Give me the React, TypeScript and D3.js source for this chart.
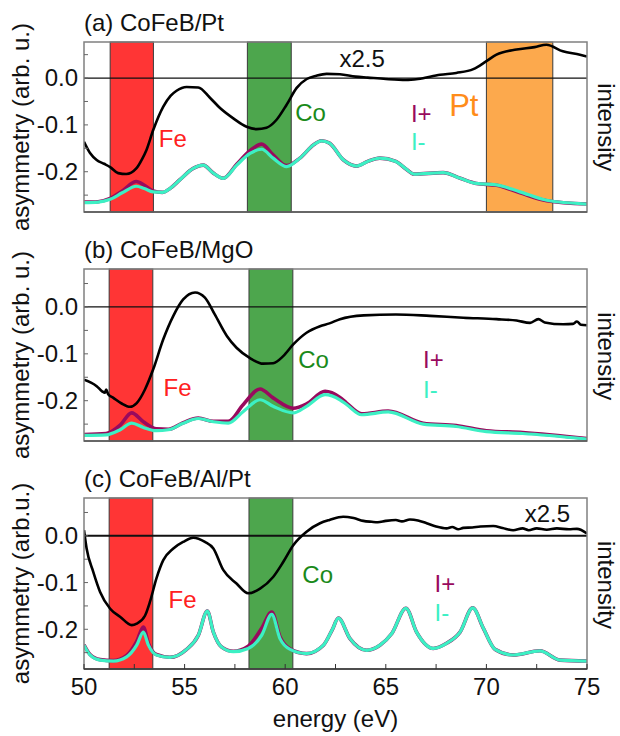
import React from 'react';
import * as d3 from 'd3';

type Pt = [number, number];

// ---------- tick labels / titles ----------
const energyTicks = [50, 55, 60, 65, 70, 75];
const energyMinorTicks = [50, 52.5, 55, 57.5, 60, 62.5, 65, 67.5, 70, 72.5, 75];
const asymTicks = [0.0, -0.1, -0.2];
const asymTickLabels = ['0.0', '-0.1', '-0.2'];
const asymMinorTicks = [0.05, 0.0, -0.05, -0.1, -0.15, -0.2, -0.25];
const panelTitles = ['(a) CoFeB/Pt', '(b) CoFeB/MgO', '(c) CoFeB/Al/Pt'];
const yAxisTitles = ['asymmetry (arb. u.)', 'asymmetry (arb. u.)', 'asymmetry (arb.u.)'];

// ---------- element edge bands (eV) ----------
const feBands: Pt[] = [[51.3, 53.45], [51.25, 53.42], [51.25, 53.42]];
const coBands: Pt[] = [[58.12, 60.3], [58.2, 60.38], [58.2, 60.38]];
const ptBand: Pt = [70.0, 73.3];

// ---------- panel (a) CoFeB/Pt ----------
const asymA: Pt[] = [[50, -0.136], [50.3, -0.16], [50.63, -0.175], [51.0, -0.183], [51.3, -0.19], [51.7, -0.203], [52.1, -0.205], [52.6, -0.193], [52.9, -0.172], [53.1, -0.154], [53.44, -0.111], [53.94, -0.061], [54.3, -0.038], [54.6, -0.027], [55.1, -0.019], [55.68, -0.02], [56.26, -0.042], [56.76, -0.064], [57.42, -0.086], [58.08, -0.104], [58.58, -0.109], [59.07, -0.106], [59.57, -0.089], [60.07, -0.057], [60.57, -0.021], [61.07, -0.002], [61.55, 0.005], [62.06, 0.009], [62.72, 0.008], [63.5, 0.003], [64.1, 0.001], [65.0, -0.002], [66.0, -0.004], [66.6, -0.002], [67.7, 0.007], [68.5, 0.011], [69.35, 0.019], [70.0, 0.036], [70.5, 0.05], [71.5, 0.061], [72.4, 0.066], [72.98, 0.071], [73.8, 0.057], [74.65, 0.05], [75, 0.046]];
const minusA: Pt[] = [[50, -0.266], [50.7, -0.265], [51.3, -0.259], [51.9, -0.245], [52.6, -0.231], [53.0, -0.236], [53.43, -0.243], [53.9, -0.244], [54.3, -0.235], [54.77, -0.217], [55.43, -0.193], [55.93, -0.186], [56.43, -0.203], [56.92, -0.214], [57.59, -0.186], [58.25, -0.161], [58.83, -0.152], [59.4, -0.171], [60.07, -0.189], [60.73, -0.171], [61.4, -0.143], [61.8, -0.134], [62.2, -0.139], [62.9, -0.175], [63.55, -0.188], [64.1, -0.178], [64.7, -0.171], [65.5, -0.178], [66.0, -0.194], [66.4, -0.205], [67.85, -0.202], [68.7, -0.214], [69.5, -0.225], [70.5, -0.228], [71.67, -0.243], [73, -0.261], [75, -0.269]];
const plusA: Pt[] = [[50, -0.265], [50.7, -0.264], [51.3, -0.257], [51.9, -0.241], [52.6, -0.221], [53.0, -0.229], [53.43, -0.241], [53.9, -0.244], [54.3, -0.235], [54.77, -0.217], [55.43, -0.193], [55.93, -0.186], [56.43, -0.203], [56.92, -0.214], [57.59, -0.184], [58.25, -0.155], [58.83, -0.141], [59.4, -0.164], [60.07, -0.187], [60.73, -0.171], [61.4, -0.143], [61.8, -0.134], [62.2, -0.139], [62.9, -0.175], [63.55, -0.188], [64.1, -0.178], [64.7, -0.171], [65.5, -0.178], [66.0, -0.194], [66.4, -0.205], [67.85, -0.202], [68.7, -0.214], [69.5, -0.225], [70.5, -0.229], [71.67, -0.245], [73, -0.262], [75, -0.269]];

// ---------- panel (b) CoFeB/MgO ----------
const asymB: Pt[] = [[50, -0.155], [50.63, -0.169], [50.9, -0.18], [51.04, -0.183], [51.1, -0.176], [51.2, -0.186], [51.46, -0.194], [51.87, -0.206], [52.29, -0.213], [52.62, -0.205], [53.03, -0.176], [53.44, -0.133], [53.94, -0.069], [54.44, -0.019], [54.93, 0.016], [55.52, 0.031], [56.01, 0.02], [56.5, -0.016], [57.1, -0.062], [57.58, -0.087], [58.25, -0.109], [58.9, -0.121], [59.4, -0.12], [59.9, -0.105], [60.4, -0.08], [61.06, -0.055], [61.73, -0.041], [62.2, -0.035], [62.72, -0.026], [63.9, -0.018], [65.5, -0.016], [67.2, -0.019], [68.85, -0.023], [70.5, -0.026], [71.5, -0.029], [72.17, -0.034], [72.58, -0.026], [72.9, -0.033], [73.83, -0.037], [74.3, -0.036], [74.5, -0.031], [74.7, -0.038], [75, -0.039]];
const minusB: Pt[] = [[50, -0.274], [51.1, -0.273], [51.8, -0.262], [52.37, -0.248], [52.95, -0.257], [53.6, -0.264], [54.19, -0.262], [54.93, -0.248], [55.68, -0.238], [56.43, -0.245], [57.17, -0.248], [57.92, -0.223], [58.75, -0.198], [59.4, -0.212], [60.4, -0.226], [61.06, -0.212], [61.98, -0.187], [62.72, -0.198], [63.05, -0.208], [63.8, -0.23], [65.12, -0.224], [66.86, -0.25], [68.5, -0.255], [70.0, -0.266], [71.8, -0.27], [75, -0.282]];
const plusB: Pt[] = [[50, -0.272], [51.1, -0.27], [51.8, -0.252], [52.37, -0.226], [52.95, -0.245], [53.6, -0.26], [54.19, -0.261], [54.93, -0.247], [55.68, -0.237], [56.43, -0.244], [57.17, -0.244], [57.92, -0.208], [58.75, -0.175], [59.4, -0.194], [60.4, -0.216], [61.06, -0.207], [61.98, -0.18], [62.72, -0.193], [63.05, -0.205], [63.8, -0.228], [65.12, -0.222], [66.86, -0.248], [68.5, -0.253], [70.0, -0.264], [71.8, -0.268], [75, -0.281]];

// ---------- panel (c) CoFeB/Al/Pt ----------
const asymC: Pt[] = [[50, 0.012], [50.13, -0.027], [50.46, -0.077], [50.8, -0.12], [51.3, -0.156], [51.79, -0.173], [52.37, -0.191], [52.62, -0.188], [53.03, -0.171], [53.28, -0.141], [53.6, -0.091], [53.94, -0.052], [54.44, -0.027], [54.93, -0.013], [55.43, -0.004], [56.01, -0.013], [56.43, -0.027], [56.92, -0.073], [57.58, -0.102], [58.16, -0.123], [58.75, -0.113], [59.4, -0.088], [59.9, -0.056], [60.4, -0.02], [61.06, 0.009], [61.73, 0.027], [62.2, 0.034], [62.88, 0.041], [63.4, 0.038], [63.88, 0.032], [64.3, 0.03], [64.6, 0.029], [65.0, 0.032], [65.5, 0.034], [65.8, 0.031], [66.2, 0.035], [66.6, 0.033], [67.03, 0.027], [67.5, 0.02], [68.02, 0.016], [68.3, 0.019], [68.6, 0.014], [68.85, 0.017], [69.3, 0.018], [69.7, 0.02], [70.34, 0.021], [70.8, 0.017], [71.33, 0.012], [71.8, 0.016], [72.1, 0.012], [72.5, 0.016], [73.0, 0.013], [73.5, 0.016], [74.1, 0.014], [74.5, 0.015], [75, 0.005]];
const minusC: Pt[] = [[50, -0.234], [50.3, -0.255], [50.8, -0.266], [51.46, -0.268], [52.12, -0.259], [52.62, -0.234], [52.95, -0.206], [53.2, -0.234], [53.6, -0.255], [54.27, -0.26], [55.1, -0.243], [55.68, -0.213], [56.13, -0.161], [56.43, -0.206], [56.84, -0.238], [57.42, -0.248], [58.16, -0.241], [58.83, -0.213], [59.33, -0.168], [59.74, -0.22], [60.24, -0.243], [61.06, -0.252], [61.9, -0.234], [62.35, -0.2], [62.64, -0.176], [63.22, -0.22], [64.05, -0.245], [64.71, -0.234], [65.3, -0.209], [66.0, -0.155], [66.53, -0.206], [67.36, -0.241], [68.02, -0.23], [68.69, -0.206], [69.32, -0.154], [69.85, -0.198], [70.43, -0.243], [71.33, -0.255], [72.66, -0.246], [73.66, -0.266], [75, -0.268]];
const plusC: Pt[] = [[50, -0.233], [50.3, -0.254], [50.8, -0.265], [51.46, -0.267], [52.12, -0.256], [52.62, -0.226], [52.95, -0.195], [53.2, -0.23], [53.6, -0.254], [54.27, -0.26], [55.1, -0.243], [55.68, -0.213], [56.13, -0.161], [56.43, -0.206], [56.84, -0.238], [57.42, -0.247], [58.16, -0.236], [58.83, -0.198], [59.33, -0.163], [59.74, -0.216], [60.24, -0.242], [61.06, -0.252], [61.9, -0.234], [62.35, -0.2], [62.64, -0.176], [63.22, -0.22], [64.05, -0.245], [64.71, -0.234], [65.3, -0.209], [66.0, -0.155], [66.53, -0.206], [67.36, -0.241], [68.02, -0.23], [68.69, -0.206], [69.32, -0.154], [69.85, -0.198], [70.43, -0.243], [71.33, -0.255], [72.66, -0.246], [73.66, -0.266], [75, -0.268]];

const asymSeries = [asymA, asymB, asymC];
const plusSeries = [plusA, plusB, plusC];
const minusSeries = [minusA, minusB, minusC];

// ---------- annotation texts and their anchor positions (energy, asymmetry units) ----------
const feLabelPos: Pt[] = [[53.72, -0.147], [53.95, -0.189], [54.2, -0.154]];
const coLabelPos: Pt[] = [[60.5, -0.092], [60.65, -0.13], [60.85, -0.101]];
const plusLabelPos: Pt[] = [[66.25, -0.093], [66.85, -0.13], [67.42, -0.12]];
const minusLabelPos: Pt[] = [[66.25, -0.154], [66.85, -0.194], [67.42, -0.182]];
const scaleLabelPos: (Pt | null)[] = [[62.7, 0.024], null, [71.9, 0.03]];
const ptLabelPos: Pt = [68.15, -0.081];

// ---------- layout ----------
const W = 620;
const H = 736;
const X0 = 84;
const X1 = 587;
const panelTop = [42, 269, 498];
const panelBottom = [212, 441, 669];
const panelYMax = [0.077, 0.081, 0.081];
const panelYMin = [-0.286, -0.286, -0.285];

const FONT = '"Liberation Sans", Arial, Helvetica, sans-serif';
const FS = 24;
const C_RED = '#ff3535';
const C_GREEN = '#4da64d';
const C_ORANGE = '#fca94d';
const C_PLUS = '#990a5e';
const C_MINUS = '#3cf0c4';
const C_FE_TEXT = '#ff2020';
const C_CO_TEXT = '#1a8a1a';
const C_PT_TEXT = '#ff8c1a';

function Panel({ i }: { i: number }) {
  const x = d3.scaleLinear().domain([50, 75]).range([X0, X1]);
  const y = d3.scaleLinear().domain([panelYMin[i], panelYMax[i]]).range([panelBottom[i], panelTop[i]]);
  const line = d3
    .line<Pt>()
    .x((d) => x(d[0]))
    .y((d) => y(d[1]))
    .curve(d3.curveMonotoneX);
  const top = panelTop[i];
  const bottom = panelBottom[i];
  const clipId = `clip${i}`;
  const bands: { r: Pt; fill: string }[] = [
    { r: feBands[i], fill: C_RED },
    { r: coBands[i], fill: C_GREEN },
  ];
  if (i === 0) bands.push({ r: ptBand, fill: C_ORANGE });
  const midY = (top + bottom) / 2;
  const scalePos = scaleLabelPos[i];

  return (
    <g>
      <defs>
        <clipPath id={clipId}>
          <rect x={X0} y={top} width={X1 - X0} height={bottom - top} />
        </clipPath>
      </defs>
      {bands.map((b, k) => (
        <rect
          key={k}
          x={x(b.r[0])}
          y={top}
          width={x(b.r[1]) - x(b.r[0])}
          height={bottom - top}
          fill={b.fill}
          stroke="#3a3a3a"
          strokeWidth={1}
        />
      ))}
      <line x1={X0} x2={X1} y1={y(0)} y2={y(0)} stroke="#111" strokeWidth={i === 2 ? 2 : 1.3} />
      <g clipPath={`url(#${clipId})`}>
        <path d={line(plusSeries[i]) || ''} fill="none" stroke={C_PLUS} strokeWidth={3.6} strokeLinejoin="round" />
        <path d={line(minusSeries[i]) || ''} fill="none" stroke={C_MINUS} strokeWidth={3.2} strokeLinejoin="round" />
        <path d={line(asymSeries[i]) || ''} fill="none" stroke="#000" strokeWidth={2.6} strokeLinejoin="round" />
      </g>
      <rect x={X0} y={top} width={X1 - X0} height={bottom - top} fill="none" stroke="#808080" strokeWidth={1.5} />
      <line x1={X0} x2={X1} y1={bottom} y2={bottom} stroke={i === 2 ? '#333' : '#555'} strokeWidth={1.5} />
      {asymMinorTicks.map((t) => (
        <line key={t} x1={X0} x2={X0 + 4} y1={y(t)} y2={y(t)} stroke="#666" strokeWidth={1} />
      ))}
      {asymTicks.map((t, k) => (
        <text key={t} x={X0 - 6} y={y(t)} dy="0.35em" textAnchor="end" fontFamily={FONT} fontSize={FS} fill="#111">
          {asymTickLabels[k]}
        </text>
      ))}
      {i === 2 &&
        energyMinorTicks.map((t) => (
          <line key={t} x1={x(t)} x2={x(t)} y1={bottom} y2={bottom - 5} stroke="#333" strokeWidth={1} />
        ))}
      {i === 2 &&
        energyTicks.map((t) => (
          <text key={t} x={x(t)} y={bottom + 26} textAnchor="middle" fontFamily={FONT} fontSize={FS} fill="#111">
            {t}
          </text>
        ))}
      <text x={X0} y={top - 11} fontFamily={FONT} fontSize={FS} fill="#111">
        {panelTitles[i]}
      </text>
      <text
        transform={`translate(29,${midY}) rotate(-90)`}
        textAnchor="middle"
        fontFamily={FONT}
        fontSize={FS}
        fill="#111"
      >
        {yAxisTitles[i]}
      </text>
      <text
        transform={`translate(598,${y(-0.105)}) rotate(90)`}
        textAnchor="middle"
        fontFamily={FONT}
        fontSize={FS}
        fill="#111"
      >
        intensity
      </text>
      <text x={x(feLabelPos[i][0])} y={y(feLabelPos[i][1])} fontFamily={FONT} fontSize={FS} fill={C_FE_TEXT}>
        Fe
      </text>
      <text x={x(coLabelPos[i][0])} y={y(coLabelPos[i][1])} fontFamily={FONT} fontSize={FS} fill={C_CO_TEXT}>
        Co
      </text>
      <text x={x(plusLabelPos[i][0])} y={y(plusLabelPos[i][1])} fontFamily={FONT} fontSize={FS} fill={C_PLUS}>
        I+
      </text>
      <text x={x(minusLabelPos[i][0])} y={y(minusLabelPos[i][1])} fontFamily={FONT} fontSize={FS} fill={C_MINUS}>
        I-
      </text>
      {scalePos && (
        <text x={x(scalePos[0])} y={y(scalePos[1])} fontFamily={FONT} fontSize={FS} fill="#111">
          x2.5
        </text>
      )}
      {i === 0 && (
        <text x={x(ptLabelPos[0])} y={y(ptLabelPos[1])} fontFamily={FONT} fontSize={31} fill={C_PT_TEXT}>
          Pt
        </text>
      )}
    </g>
  );
}

export default function App() {
  return (
    <svg
      width={W}
      height={H}
      viewBox={`0 0 ${W} ${H}`}
      style={{ position: 'absolute', left: 0, top: 0, display: 'block', background: '#fff' }}
    >
      <rect x={0} y={0} width={W} height={H} fill="#fff" />
      {[0, 1, 2].map((i) => (
        <Panel key={i} i={i} />
      ))}
      <text x={(X0 + X1) / 2} y={727} textAnchor="middle" fontFamily={FONT} fontSize={FS} fill="#111">
        energy (eV)
      </text>
    </svg>
  );
}
